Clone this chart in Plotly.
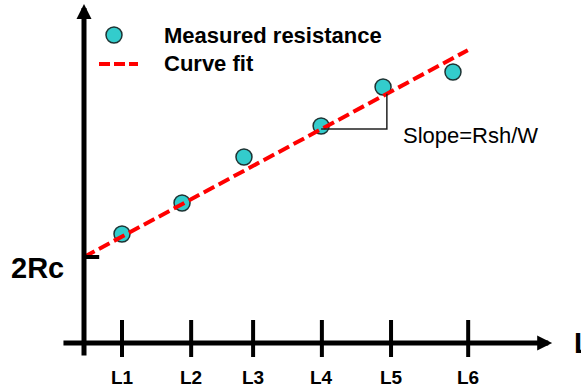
import plotly.graph_objects as go

# ---- data (schematic units) ----
tick_labels = ["L1", "L2", "L3", "L4", "L5", "L6"]
tick_pos = [1.0, 2.82, 4.45, 6.26, 8.08, 10.11]
meas_x = [1.0, 2.58, 4.21, 6.24, 7.87, 9.71]
meas_y = [5.45, 7.0, 9.3, 10.85, 12.8, 13.55]
fit_intercept = 4.3   # 2Rc
fit_slope = 1.024
fit_x = [0.0, 10.1]
slope_x = [6.24, 7.97]   # triangle start / corner
slope_base_y = 10.7
legend_names = ["Measured resistance", "Curve fit"]

FONT = "Arial, Liberation Sans, sans-serif"
W, H = 581, 390
MARK_FILL = "#33CCCC"
MARK_EDGE = "#1e3333"
FIT_COLOR = "#FF0000"

fig = go.Figure()

# measured points
fig.add_trace(go.Scatter(
    x=meas_x, y=meas_y, mode="markers", name=legend_names[0],
    marker=dict(size=16, color=MARK_FILL, line=dict(color=MARK_EDGE, width=1.5)),
    showlegend=False,
))
# curve fit
fig.add_trace(go.Scatter(
    x=fit_x, y=[fit_intercept + fit_slope * v for v in fit_x],
    mode="lines", name=legend_names[1],
    line=dict(color=FIT_COLOR, width=4, dash="12px,5px"),
    showlegend=False,
))

# slope triangle
corner_y_top = fit_intercept + fit_slope * slope_x[1]
fig.add_trace(go.Scatter(
    x=[slope_x[0], slope_x[1], slope_x[1]],
    y=[slope_base_y, slope_base_y, corner_y_top],
    mode="lines", line=dict(color="#222222", width=1.5),
    showlegend=False, hoverinfo="skip",
))

# x ticks
tx, ty = [], []
for p in tick_pos:
    tx += [p, p, None]
    ty += [1.15, -0.7, None]
fig.add_trace(go.Scatter(x=tx, y=ty, mode="lines",
                         line=dict(color="black", width=4),
                         showlegend=False, hoverinfo="skip"))
# 2Rc tick
fig.add_trace(go.Scatter(x=[0, 0.4], y=[fit_intercept, fit_intercept], mode="lines",
                         line=dict(color="black", width=4),
                         showlegend=False, hoverinfo="skip"))

ann = []
# axis arrows
ann.append(dict(x=0, y=16.95, ax=0, ay=-0.7, xref="x", yref="y", axref="x", ayref="y",
                text="", showarrow=True, arrowhead=2, arrowsize=0.6, arrowwidth=5,
                arrowcolor="black"))
ann.append(dict(x=12.32, y=0, ax=-0.58, ay=0, xref="x", yref="y", axref="x", ayref="y",
                text="", showarrow=True, arrowhead=2, arrowsize=0.6, arrowwidth=5,
                arrowcolor="black"))
# tick labels
for p, lab in zip(tick_pos, tick_labels):
    ann.append(dict(x=p, y=-1.7, xref="x", yref="y", text=lab, showarrow=False,
                    font=dict(family=FONT, size=19, color="black", weight="bold"),
                    xanchor="center", yanchor="middle"))
ann.append(dict(x=12.84, y=0, xref="x", yref="y", text="L", showarrow=False,
                font=dict(family=FONT, size=29, color="black", weight="bold"),
                xanchor="left", yanchor="middle"))
ann.append(dict(x=-0.47, y=3.75, xref="x", yref="y", text="2Rc", showarrow=False,
                font=dict(family=FONT, size=29, color="black", weight="bold"),
                xanchor="right", yanchor="middle"))
ann.append(dict(x=8.34, y=10.4, xref="x", yref="y", text="Slope=Rsh/W", showarrow=False,
                font=dict(family=FONT, size=22, color="black"),
                xanchor="left", yanchor="middle"))

# legend (drawn in paper space)
def px(x): return x / W
def py(y): return 1 - y / H

for name, ycen in zip(legend_names, [35, 64]):
    ann.append(dict(x=px(162), y=py(ycen), xref="paper", yref="paper", text=name,
                    showarrow=False, xanchor="left", yanchor="middle",
                    font=dict(family=FONT, size=22, color="black", weight="bold")))

shapes = [
    dict(type="circle", xref="paper", yref="paper",
         x0=px(106), x1=px(122), y0=py(43), y1=py(27),
         fillcolor=MARK_FILL, line=dict(color=MARK_EDGE, width=1.5)),
    dict(type="line", xref="paper", yref="paper",
         x0=px(99), x1=px(138), y0=py(64), y1=py(64),
         line=dict(color=FIT_COLOR, width=4, dash="11px,4px")),
]

fig.update_layout(
    width=W, height=H,
    margin=dict(l=0, r=0, t=0, b=0),
    paper_bgcolor="white", plot_bgcolor="white",
    xaxis=dict(range=[-84 / 38, (W - 84) / 38], visible=False, fixedrange=True),
    yaxis=dict(range=[(343 - H) / 20, 343 / 20], visible=False, fixedrange=True),
    annotations=ann, shapes=shapes,
    showlegend=False,
)

fig.write_html("out.html")
